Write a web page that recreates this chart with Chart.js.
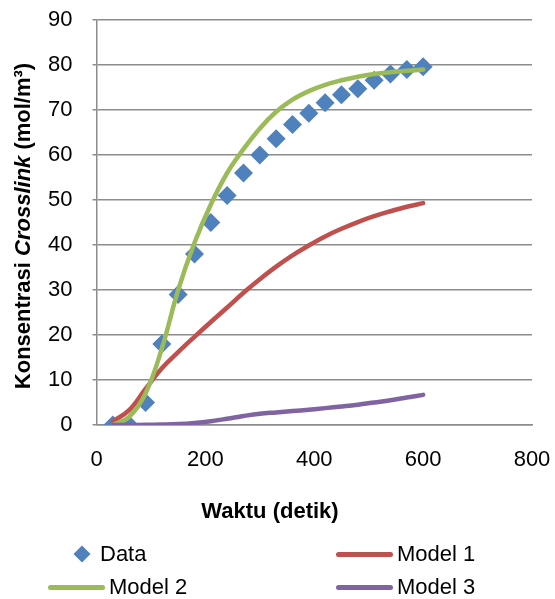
<!DOCTYPE html>
<html>
<head>
<meta charset="utf-8">
<script src="https://cdn.jsdelivr.net/npm/chart.js@4"></script>
<style>
  html, body { margin: 0; padding: 0; background: #ffffff; }
  #wrap { position: relative; width: 555px; height: 599px; }
  #legend { position: absolute; left: 0; top: 0; width: 555px; height: 599px; pointer-events: none;
    font-family: "Liberation Sans", Arial, sans-serif; font-size: 22px; color: #000; }
  .item { position: absolute; display: flex; align-items: center; height: 30px; }
  .swatch-line { height: 5px; border-radius: 3px; }
  .swatch-diamond { width: 12px; height: 12px; transform: rotate(45deg); margin: 0 12px 0 16px; }
</style>
</head>
<body>
<div id="wrap">
  <canvas id="chart" width="555" height="599"></canvas>
  <div id="legend"></div>
</div>
<script>
const times = [30, 60, 90, 120, 150, 180, 210, 240, 270, 300, 330, 360, 390, 420, 450, 480, 510, 540, 570, 600]
const dataValues = [0, 0, 5, 18, 29, 38, 45, 51, 56, 60, 63.6, 66.8, 69.3, 71.6, 73.4, 74.7, 76.6, 78, 79, 79.6]
const model1 = [0.8, 3.3, 8, 12.6, 16.2, 19.6, 22.9, 26.1, 29.4, 32.4, 35.2, 37.7, 39.9, 41.9, 43.6, 45.1, 46.4, 47.5, 48.5, 49.3]
const model2 = [0, 1.8, 7, 17, 30, 40.5, 49, 56, 61.3, 65.9, 69.6, 72.3, 74.2, 75.6, 76.6, 77.4, 78, 78.4, 78.7, 79]
const model3 = [0, 0, 0.05, 0.1, 0.2, 0.45, 0.85, 1.4, 2.0, 2.5, 2.8, 3.1, 3.4, 3.75, 4.1, 4.5, 5, 5.5, 6.1, 6.7]
const xTicks = [0, 200, 400, 600, 800]
const yTicks = [0, 10, 20, 30, 40, 50, 60, 70, 80, 90]

const seriesNames = ["Data", "Model 1", "Model 2", "Model 3"]
const seriesColors = ["#4f81bd", "#c0504d", "#9bbb59", "#8064a2"]

const FONT = "'Liberation Sans', Arial, sans-serif"
const GRID = "#8c8c8c"

const toPoints = (values) => values.map((y, i) => ({ x: times[i], y: y }))

const lineSet = (index, values, order) => ({
  label: seriesNames[index],
  data: toPoints(values),
  showLine: true,
  borderColor: seriesColors[index],
  backgroundColor: seriesColors[index],
  borderWidth: 4.5,
  pointRadius: 0,
  tension: 0.4,
  borderCapStyle: "round",
  order: order
})

const axisTitles = {
  id: "axisTitles",
  afterDraw(chart) {
    const ctx = chart.ctx
    ctx.save()
    ctx.fillStyle = "#000"
    ctx.textBaseline = "middle"

    // x title
    ctx.font = "bold 22px " + FONT
    ctx.textAlign = "center"
    ctx.fillText("Waktu (detik)", 270, 512)

    // y title, mixed bold / bold italic
    const parts = [
      { text: "Konsentrasi ", font: "bold 22px " + FONT },
      { text: "Crosslink", font: "italic bold 22px " + FONT },
      { text: " (mol/m³)", font: "bold 22px " + FONT }
    ]
    let total = 0
    parts.forEach((p) => {
      ctx.font = p.font
      p.width = ctx.measureText(p.text).width
      total += p.width
    })
    ctx.translate(24, 226)
    ctx.rotate(-Math.PI / 2)
    ctx.textAlign = "left"
    let x = -total / 2
    parts.forEach((p) => {
      ctx.font = p.font
      ctx.fillText(p.text, x, 0)
      x += p.width
    })
    ctx.restore()
  }
}

const chart = new Chart(document.getElementById("chart"), {
  type: "scatter",
  data: {
    datasets: [
      {
        label: seriesNames[0],
        data: toPoints(dataValues),
        showLine: false,
        pointStyle: "rectRot",
        pointRadius: 9.5,
        pointBorderWidth: 0,
        borderColor: seriesColors[0],
        backgroundColor: seriesColors[0],
        order: 4
      },
      lineSet(1, model1, 3),
      lineSet(2, model2, 2),
      lineSet(3, model3, 1)
    ]
  },
  options: {
    responsive: false,
    animation: false,
    events: [],
    layout: { padding: { left: 0, right: 23, top: 20, bottom: 0 } },
    plugins: {
      legend: { display: false },
      tooltip: { enabled: false }
    },
    scales: {
      x: {
        type: "linear",
        min: 0,
        max: 800,
        afterBuildTicks: (scale) => { scale.ticks = xTicks.map((v) => ({ value: v })) },
        afterFit: (scale) => {
          scale.height = 174
          scale.paddingLeft = 0
          scale.paddingRight = 0
        },
        grid: { display: false, drawTicks: false },
        border: { display: true, color: GRID, width: 1.5 },
        ticks: { color: "#000", padding: 22, font: { family: FONT, size: 22 } }
      },
      y: {
        min: 0,
        max: 90,
        afterBuildTicks: (scale) => { scale.ticks = yTicks.map((v) => ({ value: v })) },
        afterFit: (scale) => {
          scale.width = 96.5
          scale.paddingTop = 0
          scale.paddingBottom = 0
        },
        grid: { color: GRID, lineWidth: 1.5, tickLength: 4, drawTicks: true },
        border: { display: true, color: GRID, width: 1.5 },
        ticks: { color: "#000", padding: 20, font: { family: FONT, size: 22 } }
      }
    }
  },
  plugins: [axisTitles]
})

// legend built from the chart's own datasets
const legendSpots = [
  { left: 60, top: 539, swatch: "diamond" },
  { left: 336, top: 539, swatch: "line" },
  { left: 48, top: 572, swatch: "line" },
  { left: 336, top: 572, swatch: "line" }
]
const legend = document.getElementById("legend")
chart.data.datasets.forEach((ds, i) => {
  const spot = legendSpots[i]
  const item = document.createElement("div")
  item.className = "item"
  item.style.left = spot.left + "px"
  item.style.top = spot.top + "px"
  const sw = document.createElement("span")
  if (spot.swatch === "diamond") {
    sw.className = "swatch-diamond"
  } else {
    sw.className = "swatch-line"
    sw.style.width = "57px"
    sw.style.marginRight = "4px"
  }
  sw.style.background = ds.backgroundColor
  const label = document.createElement("span")
  label.textContent = ds.label
  item.appendChild(sw)
  item.appendChild(label)
  legend.appendChild(item)
})
</script>
</body>
</html>
